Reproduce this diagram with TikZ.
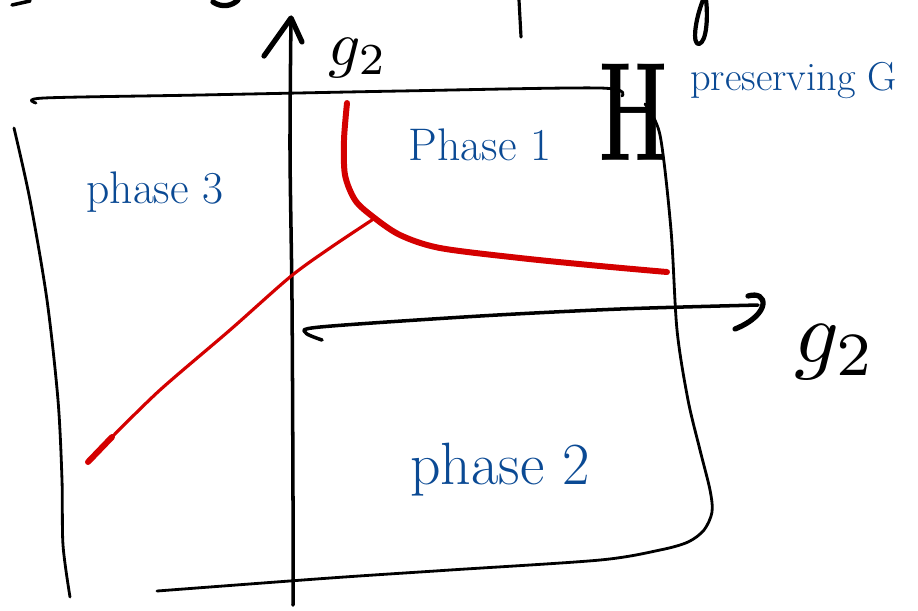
\documentclass[tikz,border=0pt]{standalone}
\usepackage{tikz}
\usetikzlibrary{arrows.meta, calc}
\definecolor{penBlue}{HTML}{0B4A94}
\definecolor{penRed}{HTML}{D40000}
\definecolor{penInk}{HTML}{000000}

\begin{document}
\begin{tikzpicture}[x=0.02cm, y=-0.02cm, line cap=round, line join=round]

\tikzset{
  frameline/.style={penInk, line width=1.6pt},
  axisline/.style={penInk, line width=2pt},
  phaseline/.style={penRed, line width=3.4pt},
  phaselabel/.style={penBlue, font=\fontsize{26}{30}\selectfont},
}

\useasboundingbox (0,0) rectangle (918,610);

% cut-off writing along the top edge
\draw[penInk, line width=2pt] (12,5) -- (30,1);
\draw[penInk, line width=3pt] (213,2) .. controls (222,8) and (232,6) .. (238,0);
\draw[penInk, line width=1.8pt] (519,0) -- (521,37);
\draw[penInk, line width=2.4pt] (703,0) .. controls (695,20) and (692,45) .. (699,44)
      .. controls (707,42) and (708,15) .. (706,0);

% frame
\draw[frameline] plot[smooth] coordinates {(36,103) (44,98) (200,95) (400,91) (600,88) (622,96)};
\draw[frameline] plot[smooth] coordinates {(14,128) (30,200) (47,300) (58,400) (62,480) (63,545) (70,597)};
\draw[frameline] plot[smooth] coordinates {(645,104) (660,135) (671,230) (677,330) (688,400)
      (700,450) (710,490) (712,512) (704,530) (688,542) (660,550) (600,560) (450,570) (330,578) (157,591)};

% g2 axis (vertical)
\draw[axisline] plot[smooth] coordinates {(293,605) (293,500) (292,300) (290,150) (291,18)};
\draw[axisline, line width=3pt] (264,56) -- (291,18) -- (302,42);

% g2 axis (horizontal)
\draw[axisline] plot[smooth] coordinates {(322,340) (306,333) (320,327) (480,316) (620,309) (758,305)};
\draw[axisline, line width=3pt] (748,296) .. controls (768,290) and (772,314) .. (735,329);

% phase boundaries
\draw[phaseline] plot[smooth] coordinates {(347,103) (344,140) (345,175) (355,200) (372,216)
      (400,235) (440,248) (520,258) (600,266) (667,272)};
\draw[penRed, line width=1.8pt] plot[smooth] coordinates {(372,220) (330,248) (290,277) (230,330) (160,390) (112,437)};
\draw[phaseline] (112,437) -- (88,462);

% labels
\node[phaselabel] (phase3) at (155,192) {phase 3};
\node[phaselabel] (phase1) at (480,145) {Phase 1};
\node[phaselabel, font=\fontsize{34}{38}\selectfont] (phase2) at (500,470) {phase 2};
\node[penBlue, font=\fontsize{23}{27}\selectfont, anchor=west] (presG) at (684,80) {preserving G};
\node[penInk, font=\fontsize{80}{90}\selectfont\bfseries, xscale=0.55] (Hlabel) at (634,112) {H};
\node[penInk, scale=3.6] (gvert) at (358,58) {$g_2$};
\node[penInk, scale=5] (ghorz) at (835,352) {$g_2$};

\end{tikzpicture}
\end{document}
